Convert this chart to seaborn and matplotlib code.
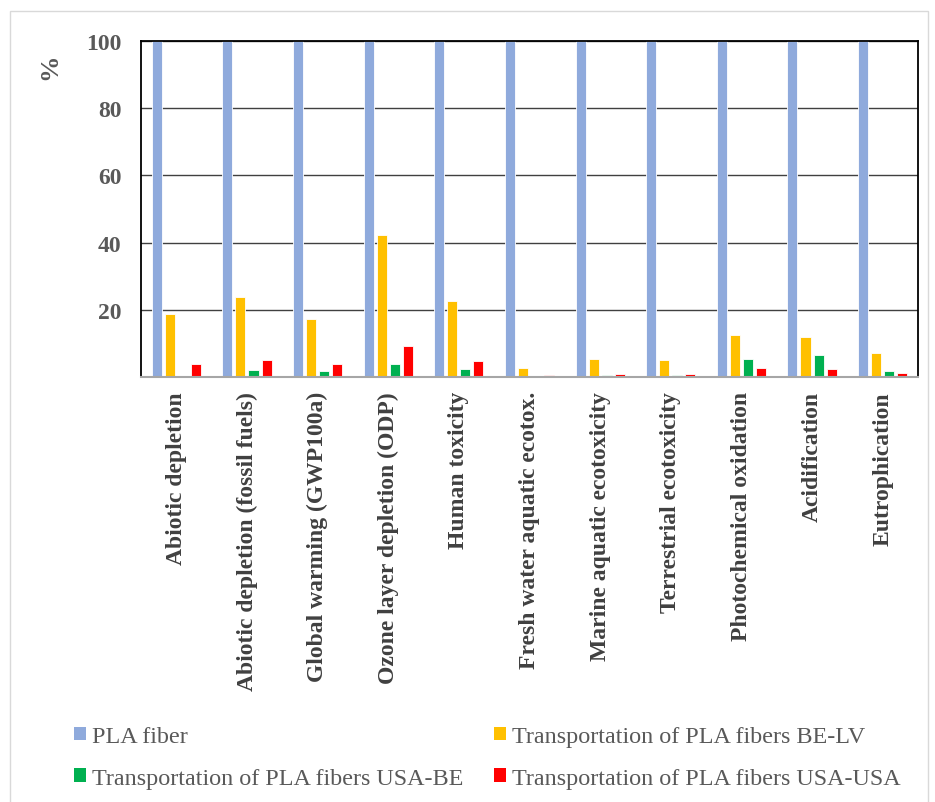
import pandas as pd
import matplotlib.pyplot as plt
import seaborn as sns
from matplotlib.patches import Rectangle, Patch

# 数据
categories = [
    "Abiotic depletion",
    "Abiotic depletion (fossil fuels)",
    "Global warming (GWP100a)",
    "Ozone layer depletion (ODP)",
    "Human toxicity",
    "Fresh water aquatic ecotox.",
    "Marine aquatic ecotoxicity",
    "Terrestrial ecotoxicity",
    "Photochemical oxidation",
    "Acidification",
    "Eutrophication",
]
series_names = [
    "PLA fiber",
    "Transportation of PLA fibers BE-LV",
    "Transportation of PLA fibers USA-BE",
    "Transportation of PLA fibers USA-USA",
]
pla_fiber = [100, 100, 100, 100, 100, 100, 100, 100, 100, 100, 100]
be_lv = [18.7, 23.8, 17.2, 42.3, 22.5, 2.8, 5.3, 5.0, 12.4, 11.8, 7.0]
usa_be = [0.0, 2.2, 1.7, 3.8, 2.4, 0.1, 0.7, 0.5, 5.3, 6.5, 1.9]
usa_usa = [4.0, 5.2, 3.8, 9.2, 4.9, 0.5, 1.0, 1.0, 2.6, 2.5, 1.3]
colors = ["#8FAADC", "#FFC000", "#00B050", "#FF0000"]

# 长表
rows = []
for name, vals in zip(series_names, [pla_fiber, be_lv, usa_be, usa_usa]):
    for cat, v in zip(categories, vals):
        rows.append({"category": cat, "series": name, "value": v})
df = pd.DataFrame(rows)

sns.set_style("white")
plt.rcParams["font.family"] = ["Liberation Serif", "DejaVu Serif"]

fig = plt.figure(figsize=(9.35, 8.03), dpi=100)
ax = fig.add_axes([141 / 935, 1 - 378 / 803, (918 - 141) / 935, (378 - 42) / 803])

sns.barplot(
    data=df, x="category", y="value", hue="series",
    hue_order=series_names, palette=colors, order=categories,
    width=0.74, gap=0.23, ax=ax, legend=False, saturation=1,
    edgecolor="white", linewidth=0.6, errorbar=None,
)

ax.set_ylim(0, 100)
ax.set_xlim(-0.5, len(categories) - 0.5)
ax.set_yticks([20, 40, 60, 80, 100])
ax.set_yticklabels(["20", "40", "60", "80", "100"], fontsize=17,
                   fontweight="bold", color="#595959")
ax.tick_params(axis="y", length=0, pad=14)
ax.tick_params(axis="x", length=0, pad=10)
ax.set_xticks(range(len(categories)))
ax.set_xticklabels(categories, rotation=90, fontsize=17, fontweight="bold",
                   color="#404040", va="top", ha="center")
ax.set_xlabel("")
ax.set_ylabel("")
ax.yaxis.grid(True, color="#404040", linewidth=1.0)
ax.set_axisbelow(True)
for side in ["top", "left", "right"]:
    ax.spines[side].set_color("black")
    ax.spines[side].set_linewidth(1.3)
ax.spines["bottom"].set_color("#A6A6A6")
ax.spines["bottom"].set_linewidth(1.5)

fig.text(50 / 935, 1 - 67 / 803, "%", rotation=90, fontsize=19,
         fontweight="bold", color="#595959", ha="center", va="center")

# 外框
fig.patches.append(Rectangle((10 / 935, -0.01), (928 - 10) / 935, 1 - 12 / 803 + 0.01,
                             transform=fig.transFigure, fill=False,
                             edgecolor="#D9D9D9", linewidth=1.0))

# 图例
handles = [Patch(facecolor=c, edgecolor="none") for c in colors]
leg_order = [0, 2, 1, 3]
fig.legend([handles[i] for i in leg_order], [series_names[i] for i in leg_order],
           ncol=2, loc="upper left", bbox_to_anchor=(74 / 935, 1 - 727 / 803),
           frameon=False, fontsize=17.4, handlelength=0.5, handleheight=0.5,
           handletextpad=0.25, columnspacing=1.25, labelspacing=0.85,
           borderpad=0, borderaxespad=0, labelcolor="#595959")

fig.savefig("out.png", dpi=100)
